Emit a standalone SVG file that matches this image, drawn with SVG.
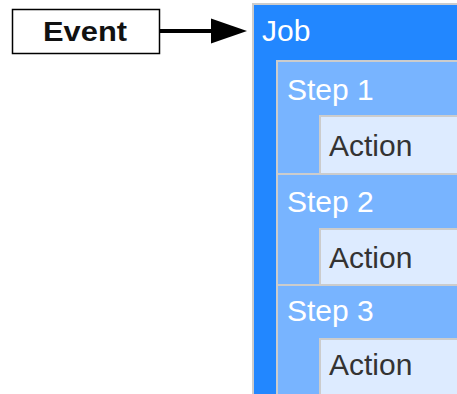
<svg xmlns="http://www.w3.org/2000/svg" width="457" height="394" viewBox="0 0 457 394">
<style>
.job{fill:#2287FF;stroke:#CCCCCC;stroke-width:2}
.step{fill:#78B4FF;stroke:#CCCCCC;stroke-width:2}
.act{fill:#DDEBFF;stroke:#CCCCCC;stroke-width:2}
.wt{font-family:"Liberation Sans",Arial,sans-serif;font-size:30px;fill:#FFFFFF}
.dt{font-family:"Liberation Sans",Arial,sans-serif;font-size:30px;fill:#333333}
</style>
<rect width="457" height="394" fill="#FFFFFF"/>
<g id="event">
<rect x="12.5" y="9.5" width="147" height="44" fill="#FFFFFF" stroke="#000" stroke-width="1.5"/>
<text x="85" y="41" text-anchor="middle" font-family="'Liberation Sans',Arial,sans-serif" font-weight="bold" font-size="27" textLength="84" lengthAdjust="spacingAndGlyphs" fill="#111">Event</text>
</g>
<g id="connectors">
<line x1="160" y1="31" x2="213" y2="31" stroke="#000" stroke-width="4"/>
<path d="M211,18.5 L247,31 L211,43.5 Z" fill="#000"/>
</g>
<g id="job">
<rect class="job" x="253" y="4" width="220" height="410"/>
<text class="wt" x="262" y="41">Job</text>
</g>
<g id="step1">
<rect class="step" x="277" y="61" width="200" height="113"/>
<text class="wt" x="287" y="100">Step 1</text>
</g>
<g id="action1">
<rect class="act" x="320" y="116" width="160" height="58"/>
<text class="dt" x="329" y="156">Action</text>
</g>
<g id="step2">
<rect class="step" x="277" y="174" width="200" height="111"/>
<text class="wt" x="287" y="212">Step 2</text>
</g>
<g id="action2">
<rect class="act" x="320" y="229" width="160" height="56"/>
<text class="dt" x="329" y="268">Action</text>
</g>
<g id="step3">
<rect class="step" x="277" y="285" width="200" height="130"/>
<text class="wt" x="287" y="321">Step 3</text>
</g>
<g id="action3">
<rect class="act" x="320" y="339" width="160" height="80"/>
<text class="dt" x="329" y="375">Action</text>
</g>
</svg>
